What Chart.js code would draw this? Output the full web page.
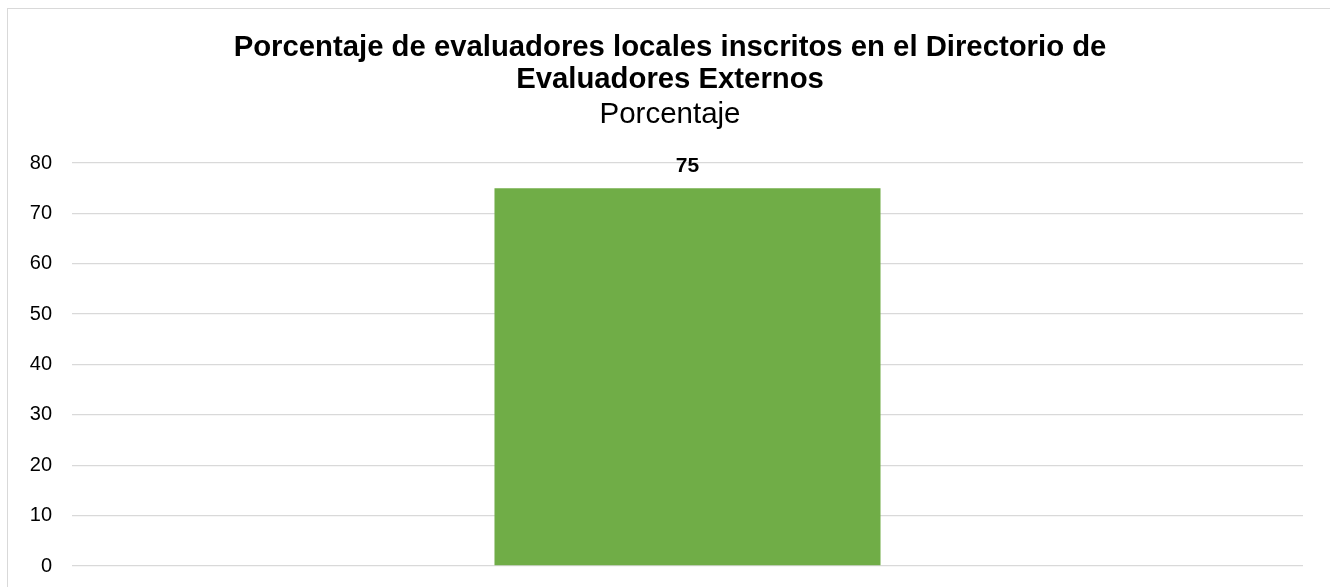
<!DOCTYPE html>
<html>
<head>
<meta charset="utf-8">
<script src="https://cdn.jsdelivr.net/npm/chart.js@4/dist/chart.umd.min.js"></script>
<style>
    body { margin: 0; background: #fff; overflow: hidden; }
    #marco {
        position: absolute; left: 7px; top: 8px;
        width: 1400px; height: 700px;
        border: 1px solid #d9d9d9;
    }
    #grafico { display: block; }
</style>
</head>
<body>
<div id="marco"><canvas id="grafico" width="1322" height="589"></canvas></div>
<script>
// ─── DATOS ────────────────────────────────────────────────────
const categorias = ['Porcentaje'];
const valores = [75];
const ticksY = [0, 10, 20, 30, 40, 50, 60, 70, 80];

const tituloLineas = ['Porcentaje de evaluadores locales inscritos en el Directorio de', 'Evaluadores Externos'];
const subtitulo = 'Porcentaje';

const fuente = '"Liberation Sans", Arial, sans-serif';

// Título centrado sobre todo el marco (no sobre el área del gráfico)
const tituloMarco = {
    id: 'tituloMarco',
    afterDraw(chart) {
        const ctx = chart.ctx;
        const cx = 662;
        ctx.save();
        ctx.fillStyle = '#000';
        ctx.textAlign = 'center';
        ctx.textBaseline = 'middle';
        ctx.font = `bold 29.3px ${fuente}`;
        tituloLineas.forEach((linea, i) => ctx.fillText(linea, cx, 39 + i * 32));
        ctx.font = `29.5px ${fuente}`;
        ctx.fillText(subtitulo, cx, 106);
        ctx.restore();
    }
};

// Etiqueta de valor encima de la barra
const etiquetaValor = {
    id: 'etiquetaValor',
    afterDatasetsDraw(chart) {
        const ctx = chart.ctx;
        const meta = chart.getDatasetMeta(0);
        ctx.save();
        ctx.font = `bold 21px ${fuente}`;
        ctx.fillStyle = '#000';
        ctx.textAlign = 'center';
        ctx.textBaseline = 'bottom';
        meta.data.forEach((bar, i) => {
            ctx.fillText(String(valores[i]), bar.x, bar.y - 11);
        });
        ctx.restore();
    }
};

new Chart(document.getElementById('grafico').getContext('2d'), {
    type: 'bar',
    data: {
        labels: categorias,
        datasets: [{
            label: subtitulo,
            data: valores,
            backgroundColor: '#70ad47',
            borderWidth: 0,
            barPercentage: 0.3136,
            categoryPercentage: 1
        }]
    },
    options: {
        responsive: false,
        animation: false,
        layout: { padding: { top: 154, right: 27, bottom: 0, left: 0 } },
        plugins: {
            legend: { display: false },
            tooltip: { enabled: false }
        },
        scales: {
            x: { display: false },
            y: {
                min: 0,
                max: 80,
                afterBuildTicks: s => { s.ticks = ticksY.map(v => ({ value: v })); },
                afterFit: s => { s.width = 64; },
                border: { display: false },
                grid: { color: '#d9d9d9', lineWidth: 1.3, drawTicks: false },
                ticks: { color: '#000', padding: 20, font: { family: fuente, size: 20 } }
            }
        }
    },
    plugins: [tituloMarco, etiquetaValor]
});
</script>
</body>
</html>
